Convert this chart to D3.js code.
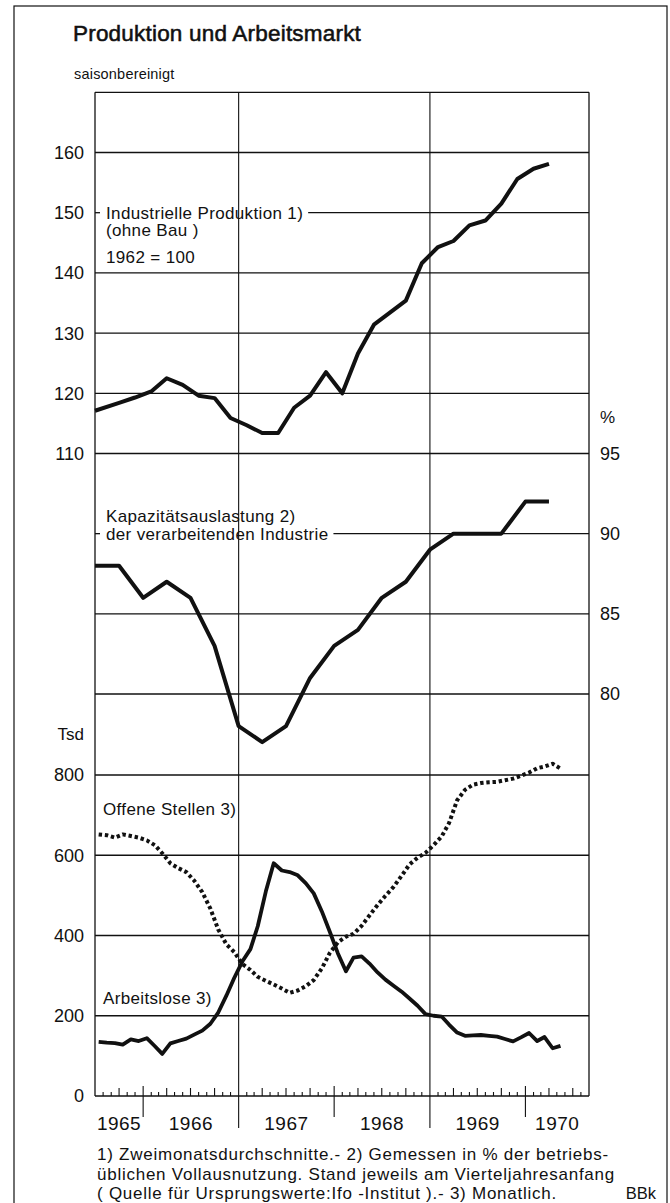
<!DOCTYPE html>
<html><head><meta charset="utf-8">
<script src="https://cdn.jsdelivr.net/npm/d3@7"></script>
<style>
html,body{margin:0;padding:0;background:#fff;}
svg{display:block;}
text{font-family:"Liberation Sans",Arial,Helvetica,sans-serif;fill:#111;}
</style></head><body>
<svg id="chart" width="670" height="1203"></svg>
<script>
// ---------- data ----------
const prodTicks = [110, 120, 130, 140, 150, 160];
const capTicks = [80, 85, 90, 95];
const tsdTicks = [0, 200, 400, 600, 800];
const yearLabels = ["1965", "1966", "1967", "1968", "1969", "1970"];

// Industrielle Produktion (Zweimonatsdurchschnitte), 1962 = 100
const prodMonths = ["1965-07","1965-10","1965-12","1966-02","1966-04","1966-06","1966-08","1966-10","1966-12",
  "1967-02","1967-04","1967-06","1967-08","1967-10","1967-12","1968-02","1968-04","1968-06","1968-08","1968-10",
  "1968-12","1969-02","1969-04","1969-06","1969-08","1969-10","1969-12","1970-02","1970-04"];
const prodValues = [117.1,118.4,119.3,120.3,122.5,121.4,119.6,119.2,115.9,
  114.7,113.4,113.4,117.6,119.6,123.5,120.0,126.6,131.4,133.4,135.4,
  141.6,144.3,145.3,147.9,148.7,151.5,155.6,157.3,158.1];

// Kapazitaetsauslastung (Stand am Vierteljahresanfang), %
const capMonths = ["1965-07","1965-10","1966-01","1966-04","1966-07","1966-10","1967-01","1967-04","1967-07","1967-10",
  "1968-01","1968-04","1968-07","1968-10","1969-01","1969-04","1969-07","1969-10","1970-01","1970-04"];
const capValues = [88,88,86,87,86,83,78,77,78,81,83,84,86,87,89,90,90,90,92,92];

// Monatlich, Tsd, ab Juli 1965
const monthlyStart = "1965-07";
const vacancies = [652,650,644,652,648,644,637,625,605,580,
  568,558,537,508,467,415,378,359,329,314,
  297,287,278,268,257,263,274,289,318,356,
  383,397,404,424,450,476,499,521,549,577,
  594,606,625,647,680,737,763,776,780,782,
  783,787,791,798,806,817,821,828,816];
const unemployed = [135,133,132,128,141,137,144,124,105,131,
  137,143,153,163,180,208,250,294,335,366,
  423,510,580,562,558,550,530,505,460,410,
  356,311,345,348,330,308,290,275,260,243,
  225,204,200,198,178,158,150,151,152,150,
  148,142,136,146,157,137,147,119,125];

// ---------- layout ----------
const L = 95, R = 589, AX = 1096;
const parseM = d3.timeParse("%Y-%m");
const x = d3.scaleTime().domain([new Date(1965,6,1), new Date(1970,8,1)]).range([L, R]);
const yProd = d3.scaleLinear().domain([110,160]).range([453.5,152.5]);
const yCap = d3.scaleLinear().domain([80,95]).range([694,453.5]);
const yTsd = d3.scaleLinear().domain([0,800]).range([AX,775]);
const TOP = yProd(170);

const svg = d3.select("#chart");
const ink = "#111";

// outer frame
svg.append("rect").attr("x",14).attr("y",6).attr("width",653).attr("height",1230)
  .attr("fill","none").attr("stroke",ink).attr("stroke-width",1.2);

// title
svg.append("text").attr("x",73).attr("y",41).attr("font-size",22.5)
  .attr("stroke",ink).attr("stroke-width",0.55).attr("letter-spacing",0.2)
  .text("Produktion und Arbeitsmarkt");
svg.append("text").attr("x",74).attr("y",79).attr("font-size",14.5).attr("letter-spacing",0.2)
  .text("saisonbereinigt");

const g = svg.append("g");
const hline = (y, x1, x2, w) => g.append("line").attr("x1",x1).attr("x2",x2).attr("y1",y).attr("y2",y)
  .attr("stroke",ink).attr("stroke-width",w||1.3);

// plot border
hline(TOP, L, R);
hline(AX, L, R, 1.5);
g.append("line").attr("x1",L).attr("x2",L).attr("y1",TOP).attr("y2",AX).attr("stroke",ink).attr("stroke-width",1.3);
g.append("line").attr("x1",R).attr("x2",R).attr("y1",TOP).attr("y2",AX).attr("stroke",ink).attr("stroke-width",1.3);

// full horizontal gridlines
prodTicks.filter(v => v !== 150).forEach(v => hline(yProd(v), L, R));
capTicks.filter(v => v !== 90 && v !== 95).forEach(v => hline(yCap(v), L, R));
tsdTicks.filter(v => v > 0).forEach(v => hline(yTsd(v), L, R));

// vertical year gridlines (1967, 1969)
[1967, 1969].forEach(yr => {
  g.append("line").attr("x1",x(new Date(yr,0,1))).attr("x2",x(new Date(yr,0,1)))
    .attr("y1",TOP).attr("y2",1128).attr("stroke",ink).attr("stroke-width",1.1);
});

// labels with broken gridlines
const lab = (t, xx, yy, fs) => svg.append("text").attr("x",xx).attr("y",yy)
  .attr("font-size",fs||17).attr("letter-spacing",0.35).text(t);
function leader(text, yLine) {
  hline(yLine, L, L + 5);
  const t = lab(text, 106, yLine + 6);
  const w = t.node().getComputedTextLength();
  hline(yLine, 106 + w + 5, R);
}
leader("Industrielle Produktion 1)", yProd(150));
lab("(ohne Bau )", 106, 236);
lab("1962 = 100", 106, 263);
lab("Kapazitätsauslastung 2)", 106, 522);
leader("der verarbeitenden Industrie", yCap(90));
lab("Offene Stellen 3)", 103, 815);
lab("Arbeitslose 3)", 103, 1004);

// axis labels
const axLab = svg.append("g");
prodTicks.forEach(v => axLab.append("text").attr("x",84).attr("y",yProd(v)).attr("dy","0.36em")
  .attr("text-anchor","end").attr("font-size",18).text(v));
tsdTicks.forEach(v => axLab.append("text").attr("x",84).attr("y",yTsd(v)).attr("dy","0.36em")
  .attr("text-anchor","end").attr("font-size",18).text(v));
axLab.append("text").attr("x",84).attr("y",yTsd(800)-41).attr("dy","0.36em")
  .attr("text-anchor","end").attr("font-size",17).text("Tsd");
capTicks.forEach(v => axLab.append("text").attr("x",600).attr("y",yCap(v)).attr("dy","0.36em")
  .attr("font-size",18).text(v));
axLab.append("text").attr("x",600).attr("y",yCap(95)-37).attr("dy","0.36em")
  .attr("font-size",17).text("%");

// x axis ticks
const months = d3.timeMonth.range(new Date(1965,7,1), new Date(1970,8,1));
months.forEach(d => {
  const xx = x(d), m = d.getMonth();
  if (m === 0) {
    if (d.getFullYear() % 2 === 0)
      g.append("line").attr("x1",xx).attr("x2",xx).attr("y1",AX-10).attr("y2",AX+21).attr("stroke",ink).attr("stroke-width",1.1);
  } else {
    const len = (m % 3 === 0) ? 8 : 4;
    g.append("line").attr("x1",xx).attr("x2",xx).attr("y1",AX).attr("y2",AX-len).attr("stroke",ink).attr("stroke-width",1.1);
  }
});
yearLabels.forEach(yl => {
  const yr = +yl;
  const a = Math.max(x(new Date(yr,0,1)), L), b = Math.min(x(new Date(yr+1,0,1)), R);
  svg.append("text").attr("x",(a+b)/2).attr("y",1130).attr("text-anchor","middle")
    .attr("font-size",19).attr("letter-spacing",0.5).text(yl);
});

// ---------- series ----------
const prodData = prodMonths.map((m,i) => ({d: parseM(m), v: prodValues[i]}));
const capData = capMonths.map((m,i) => ({d: parseM(m), v: capValues[i]}));
const start = parseM(monthlyStart);
const midMonth = i => d3.timeDay.offset(d3.timeMonth.offset(start, i), 14);
const vacData = vacancies.map((v,i) => ({d: midMonth(i), v}));
const unData = unemployed.map((v,i) => ({d: midMonth(i), v}));

const drawLine = (data, y, dash, w) => svg.append("path").datum(data)
  .attr("fill","none").attr("stroke",ink).attr("stroke-width",w)
  .attr("stroke-linejoin","round").attr("stroke-dasharray",dash||null)
  .attr("d", d3.line().x(p => x(p.d)).y(p => y(p.v)));

drawLine(prodData, yProd, null, 4);
drawLine(capData, yCap, null, 4);
drawLine(vacData, yTsd, "3.4,2.8", 4);
drawLine(unData, yTsd, null, 3.8);

// ---------- footnotes ----------
const fn = ["1) Zweimonatsdurchschnitte.- 2) Gemessen in % der betriebs-",
  "üblichen Vollausnutzung. Stand jeweils am Vierteljahresanfang",
  "( Quelle für Ursprungswerte:Ifo -Institut ).- 3) Monatlich."];
fn.forEach((t,i) => svg.append("text").attr("x",97).attr("y",1160 + i*19.5)
  .attr("font-size",17).attr("letter-spacing",0.75).text(t));
svg.append("text").attr("x",656).attr("y",1199).attr("text-anchor","end")
  .attr("font-size",16.5).text("BBk");
</script>
</body></html>
